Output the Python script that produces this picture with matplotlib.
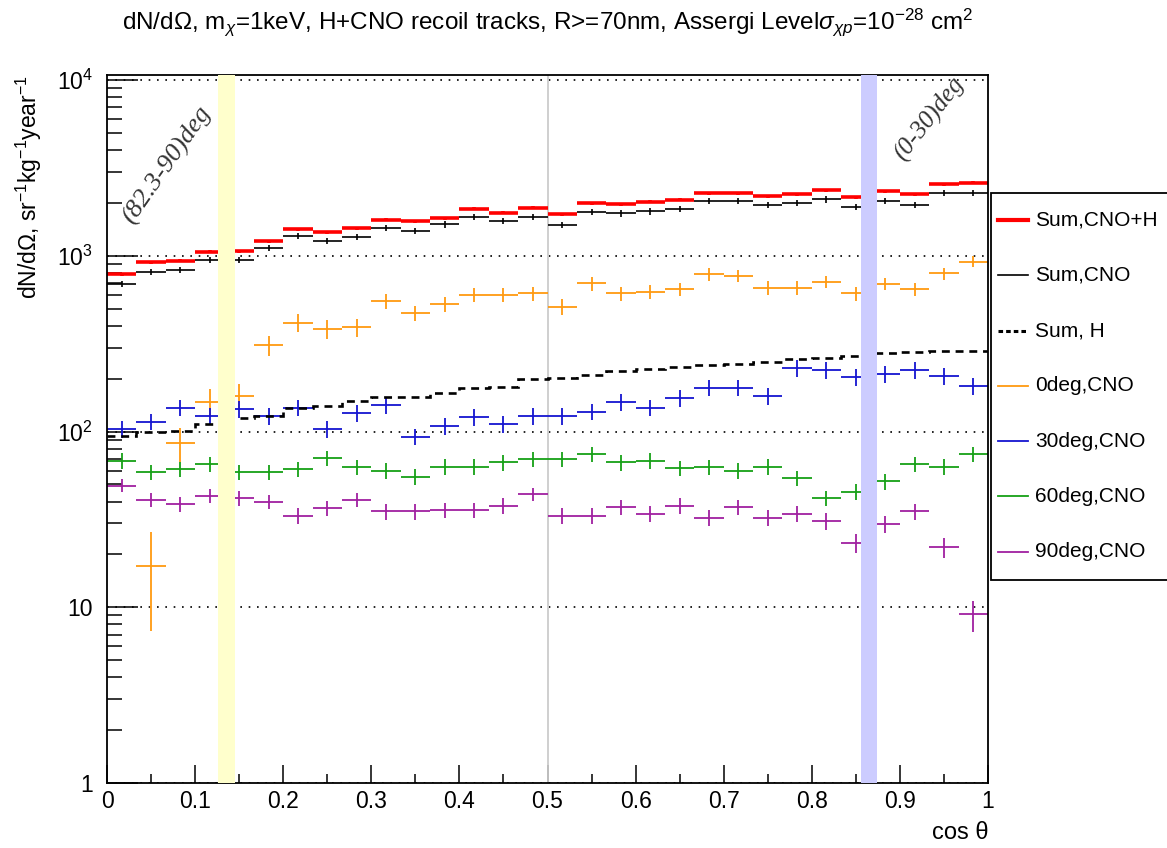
import numpy as np
import matplotlib
matplotlib.use('Agg')
from matplotlib import pyplot as plt
from matplotlib.lines import Line2D
from matplotlib.patches import Rectangle
from matplotlib.ticker import NullFormatter, LogLocator

plt.rcParams['font.family'] = ['Liberation Sans', 'DejaVu Sans']
plt.rcParams['mathtext.fontset'] = 'custom'
plt.rcParams['mathtext.rm'] = 'Liberation Sans'
plt.rcParams['mathtext.it'] = 'Liberation Sans:italic'
plt.rcParams['mathtext.bf'] = 'Liberation Sans:bold'

# 30 bins in cos(theta)
edges = np.linspace(0, 1, 31)

sum_all = [788, 918, 940, 1057, 1064, 1208, 1415, 1361, 1432, 1606, 1570, 1641, 1855, 1761, 1879,
           1730, 1995, 1972, 2032, 2088, 2268, 2268, 2190, 2237, 2367, 2161, 2327, 2237, 2553, 2606]
sum_cno = [692, 813, 835, 946, 951, 1104, 1291, 1214, 1285, 1446, 1390, 1510, 1663, 1578, 1663,
           1503, 1774, 1745, 1791, 1846, 2049, 2049, 1945, 1996, 2095, 1888, 2049, 1945, 2275, 2275]
sum_h = [94, 99.6, 100.8, 110, 119, 122, 136, 139, 149, 157, 157, 166.6, 178, 180, 199,
         203, 210, 221, 226, 234, 238, 241, 250, 258, 264, 271, 279, 285, 287, 289]
deg0 = [np.nan, 17.1, 86.1, 148, 160, 311, 417, 383, 392, 553, 471, 532, 599, 599, 612,
        514, 698, 612, 626, 647, 787, 771, 659, 659, 713, 612, 695, 647, 795, 927]
deg30 = [103, 114, 137, 123, 134, 122, 137, 103, 127, 141, 93.7, 108, 121, 111, 123,
         123, 130, 148, 137, 156, 178, 178, 160, 229, 224, 205, 212, 224, 207, 182]
deg60 = [68.4, 58.7, 61.3, 65.4, 58.7, 58.7, 61.3, 70.5, 62.7, 60.0, 55.5, 63.2, 63.2, 66.7, 69.9,
         69.9, 74.3, 66.7, 68.4, 61.8, 62.7, 60.0, 63.2, 54.2, 41.7, 45.6, 52.0, 65.4, 63.2, 74.3]
deg90 = [49.3, 40.9, 38.7, 43.0, 41.7, 40.0, 33.1, 36.6, 40.9, 35.1, 35.1, 35.8, 35.8, 37.9, 44.0,
         33.1, 33.1, 37.1, 34.0, 37.9, 32.4, 37.0, 32.4, 34.0, 30.8, 23.2, 29.8, 35.1, 22.0, 9.1]

# relative errors
rel_all = 0.02
rel_cno = 0.04
rel_30 = 0.11
rel_60 = 0.10
rel_0 = [np.nan, 0.57, 0.22, 0.18, 0.17, 0.13, 0.12, 0.12, 0.12, 0.10, 0.10, 0.10, 0.09, 0.09, 0.09,
         0.10, 0.09, 0.09, 0.09, 0.09, 0.08, 0.08, 0.09, 0.09, 0.08, 0.09, 0.08, 0.09, 0.08, 0.07]
rel_90 = [0.085, 0.095, 0.095, 0.09, 0.095, 0.095, 0.105, 0.10, 0.095, 0.10, 0.10, 0.10, 0.10, 0.10, 0.09,
          0.105, 0.105, 0.10, 0.105, 0.10, 0.105, 0.10, 0.105, 0.105, 0.11, 0.125, 0.11, 0.10, 0.13, 0.20]

labels = ['Sum,CNO+H', 'Sum,CNO', 'Sum, H', '0deg,CNO', '30deg,CNO', '60deg,CNO', '90deg,CNO']
colors = ['#ff0000', '#000000', '#000000', '#ff9a10', '#1515d0', '#16a016', '#a020a0']

band_lo = [0.126, 0.856]
band_hi = [0.145, 0.874]
band_col = ['#ffffcc', '#ccccff']

centers = 0.5 * (edges[1:] + edges[:-1])
halfw = 0.5 * (edges[1] - edges[0])

W, H = 1167, 848
fig = plt.figure(figsize=(W/100, H/100), dpi=100)
ax = fig.add_axes([107/W, 1-783/H, 881/W, 708/H])

ax.set_xlim(0, 1)
ax.set_yscale('log')
ax.set_ylim(1, 1.07e4)

series = [(sum_cno, rel_cno, colors[1], 1.2),
          (deg0, rel_0, colors[3], 1.3),
          (deg30, rel_30, colors[4], 1.3),
          (deg60, rel_60, colors[5], 1.3),
          (deg90, rel_90, colors[6], 1.3)]
for vals, rel, c, lw in series:
    v = np.array(vals, dtype=float)
    ax.errorbar(centers, v, xerr=halfw, yerr=v*np.array(rel), fmt='none',
                ecolor=c, elinewidth=lw, capsize=0, zorder=2)

v = np.array(sum_all, dtype=float)
ax.errorbar(centers, v, xerr=halfw, yerr=v*rel_all, fmt='none', ecolor=colors[0],
            elinewidth=2.6, capsize=0, zorder=2.2)

ax.stairs(sum_h, edges, baseline=None, color='black', lw=1.9,
          linestyle=(0, (3, 2.2)), zorder=2.1)

ax.axvline(0.5, color='#cccccc', lw=1.3, zorder=1.8)
for lo, hi, c in zip(band_lo, band_hi, band_col):
    ax.axvspan(lo, hi, color=c, lw=0, zorder=4)

ax.text(0.068, 3300, '(82.3-90)deg', rotation=55, ha='center', va='center',
        family='Liberation Serif', style='italic', fontsize=19, color='#333333')
ax.text(0.934, 6000, '(0-30)deg', rotation=52, ha='center', va='center',
        family='Liberation Serif', style='italic', fontsize=18, color='#333333')

# axes styling
ax.set_xticks(np.arange(0, 1.01, 0.1))
ax.set_xticklabels(['0', '0.1', '0.2', '0.3', '0.4', '0.5', '0.6', '0.7', '0.8', '0.9', '1'])
ax.set_xticks(np.arange(0.05, 1, 0.1), minor=True)
ax.set_yticks([1, 10, 100, 1000, 10000])
ax.set_yticklabels(['1', '10', r'$10^{2}$', r'$10^{3}$', r'$10^{4}$'])
ax.yaxis.set_minor_locator(LogLocator(base=10, subs=np.arange(2, 10)))
ax.yaxis.set_minor_formatter(NullFormatter())
ax.tick_params(axis='x', which='major', direction='in', length=13, width=1.1, labelsize=16.5, pad=5)
ax.tick_params(axis='x', which='minor', direction='in', length=6.5, width=1.1)
ax.tick_params(axis='y', which='major', direction='in', length=22, width=1.1, labelsize=16.5, pad=10)
ax.tick_params(axis='y', which='minor', direction='in', length=11, width=1.1)
for s in ax.spines.values():
    s.set_linewidth(1.3)

ax.yaxis.grid(True, which='major', linestyle=(0, (1, 4)), color='black', lw=1.2)
ax.set_axisbelow(True)

ax.set_ylabel(r'dN/d$\Omega$, sr$^{-1}$kg$^{-1}$year$^{-1}$', fontsize=16.5, ha='right', y=1.0)
ax.yaxis.set_label_coords(-0.0715, 1.0)
ax.set_xlabel('cos θ', fontsize=17, ha='right', x=1.0)
ax.xaxis.set_label_coords(1.0, -0.055)

fig.text(0.5 * (107 + 988) / W, 1 - 22/H,
         r'dN/d$\Omega$, m$_{\chi}$=1keV, H+CNO recoil tracks, R>=70nm, Assergi Level$\sigma_{\chi p}$=10$^{-28}$ cm$^{2}$',
         ha='center', va='center', fontsize=17.5)

# legend box drawn like the ROOT TLegend
handles = [dict(color=colors[0], lw=3),
           dict(color=colors[1], lw=1.2),
           dict(color=colors[2], lw=2.2, linestyle=(0, (1.5, 1))),
           dict(color=colors[3], lw=1.3),
           dict(color=colors[4], lw=1.3),
           dict(color=colors[5], lw=1.3),
           dict(color=colors[6], lw=1.3)]
fig.patches.append(Rectangle((991/W, 1-580/H), 0.2, 387/H, transform=fig.transFigure,
                             facecolor='white', edgecolor='black', lw=1.3, zorder=5))
for i, (lab, hs) in enumerate(zip(labels, handles)):
    yy = 1 - (220 + 55.3*i)/H
    fig.add_artist(Line2D([998/W, 1028/W], [yy, yy], transform=fig.transFigure, zorder=6, **hs))
    fig.text(1035/W, yy, lab, ha='left', va='center', fontsize=15, zorder=6)

fig.savefig('out.png', dpi=100)
